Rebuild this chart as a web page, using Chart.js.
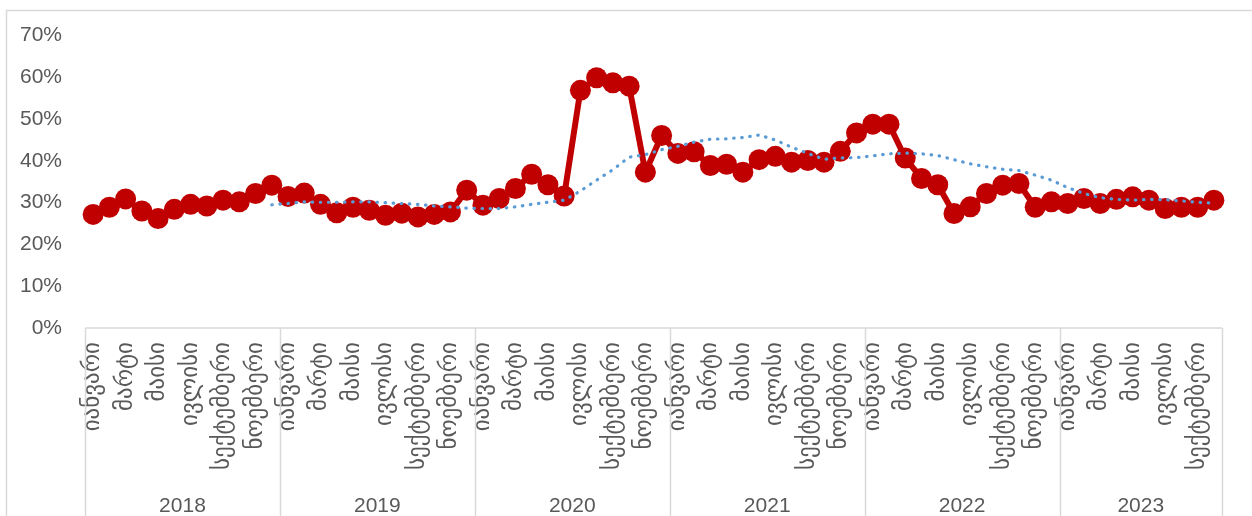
<!DOCTYPE html>
<html>
<head>
<meta charset="utf-8">
<script src="https://cdn.jsdelivr.net/npm/chart.js@4/dist/chart.umd.min.js"></script>
<style>
  html, body { margin: 0; padding: 0; background: #fff; }
  #wrap { width: 1252px; height: 516px; position: relative; }
</style>
</head>
<body>
<div id="wrap"><canvas id="chart"></canvas></div>
<script>
// month names (Georgian), years and how many months each year has
var monthNames = ['იანვარი', 'თებერვალი', 'მარტი', 'აპრილი', 'მაისი', 'ივნისი',
  'ივლისი', 'აგვისტო', 'სექტემბერი', 'ოქტომბერი', 'ნოემბერი', 'დეკემბერი'];
var years = ['2018', '2019', '2020', '2021', '2022', '2023'];
var monthsPerYear = [12, 12, 12, 12, 12, 10];

// share, %
var shareValues = [
  27.2, 28.9, 30.9, 28.0, 26.2, 28.4, 29.6, 29.2, 30.6, 30.2, 32.2, 34.2,
  31.5, 32.3, 29.6, 27.6, 28.9, 28.2, 27.0, 27.5, 26.6, 27.2, 27.8, 33.0,
  29.4, 31.0, 33.4, 36.8, 34.3, 31.6, 56.9, 59.9, 58.7, 57.9, 37.3, 46.1,
  41.8, 42.2, 38.9, 39.2, 37.3, 40.3, 41.1, 39.7, 40.1, 39.7, 42.3, 46.7,
  48.8, 48.8, 40.7, 35.8, 34.3, 27.4, 29.0, 32.2, 34.2, 34.6, 28.9, 30.2,
  29.8, 31.0, 29.8, 30.8, 31.4, 30.6, 28.6, 28.9, 28.9, 30.6
];

// dotted trend line (starts in Dec 2018)
var trendValues = [
  null, null, null, null, null, null, null, null, null, null, null, 29.5,
  29.8, 30.2, 30.1, 30.1, 30.2, 30.2, 30.0, 29.8, 29.6, 29.2, 29.0, 28.7,
  28.6, 28.6, 29.0, 29.6, 30.1, 30.6, 32.8, 35.4, 37.9, 40.9, 41.5, 42.7,
  43.5, 44.5, 45.2, 45.3, 45.6, 46.2, 45.0, 43.3, 41.8, 40.4, 40.7, 40.8,
  41.2, 41.7, 41.9, 41.7, 41.3, 40.3, 39.3, 38.6, 38.0, 37.7, 36.6, 35.4,
  33.6, 32.2, 31.2, 30.8, 30.6, 30.8, 30.7, 30.4, 30.1, 29.9
];

var yTicks = [0, 10, 20, 30, 40, 50, 60, 70];

var labels = [];
monthsPerYear.forEach(function (n) {
  for (var m = 0; m < n; m++) labels.push(monthNames[m]);
});

var GRID = '#d9d9d9';
var TEXT = '#595959';
var LATIN = "'Liberation Sans', Arial, sans-serif";
var GEO = "'DejaVu Sans', sans-serif";

var yearAxis = {
  id: 'yearAxis',
  beforeDraw: function (chart) {
    var ctx = chart.ctx;
    ctx.save();
    ctx.strokeStyle = GRID;
    ctx.lineWidth = 1.5;
    ctx.strokeRect(6.5, 10.5, 1400, 700);
    ctx.restore();
  },
  afterDraw: function (chart) {
    var ctx = chart.ctx;
    var xs = chart.scales.x;
    var area = chart.chartArea;
    var half = (xs.getPixelForValue(1) - xs.getPixelForValue(0)) / 2;
    var bottom = chart.height;

    ctx.save();
    ctx.strokeStyle = GRID;
    ctx.lineWidth = 1.5;
    ctx.beginPath();
    ctx.moveTo(area.left, area.bottom);
    ctx.lineTo(area.right, area.bottom);

    var idx = 0;
    ctx.fillStyle = TEXT;
    ctx.font = '21px ' + LATIN;
    ctx.textAlign = 'center';
    ctx.textBaseline = 'middle';
    years.forEach(function (yr, i) {
      var left = xs.getPixelForValue(idx) - half;
      var right = xs.getPixelForValue(idx + monthsPerYear[i] - 1) + half;
      ctx.moveTo(Math.round(left) + 0.5, area.bottom);
      ctx.lineTo(Math.round(left) + 0.5, bottom);
      if (i === years.length - 1) {
        ctx.moveTo(Math.round(right) + 0.5, area.bottom);
        ctx.lineTo(Math.round(right) + 0.5, bottom);
      }
      ctx.fillText(yr, (left + right) / 2, 506);
      idx += monthsPerYear[i];
    });
    ctx.stroke();
    ctx.restore();
  }
};

new Chart(document.getElementById('chart'), {
  type: 'line',
  data: {
    labels: labels,
    datasets: [{
      data: trendValues,
      borderColor: '#5b9bd5',
      borderWidth: 3.2,
      borderDash: [0.5, 7.6],
      borderCapStyle: 'round',
      pointRadius: 0,
      fill: false
    }, {
      data: shareValues,
      borderColor: '#c00000',
      backgroundColor: '#c00000',
      borderWidth: 6,
      pointRadius: 10.5,
      pointBorderWidth: 0,
      pointBackgroundColor: '#c00000',
      fill: false
    }]
  },
  options: {
    responsive: true,
    maintainAspectRatio: false,
    animation: false,
    layout: { padding: { top: 34, left: 0, right: 30, bottom: 0 } },
    plugins: {
      legend: { display: false },
      tooltip: { enabled: false }
    },
    scales: {
      x: {
        offset: true,
        grid: { display: false, drawTicks: false },
        border: { display: false },
        ticks: {
          autoSkip: false,
          minRotation: 90,
          maxRotation: 90,
          padding: 14,
          color: TEXT,
          font: { family: GEO, size: 23 },
          callback: function (v, i) { return i % 2 === 0 ? labels[i] : ''; }
        },
        afterFit: function (scale) {
          scale.height = 188;
          scale.paddingLeft = 0;
          scale.paddingRight = 0;
        }
      },
      y: {
        min: 0,
        max: 70,
        grid: { display: false, drawTicks: false },
        border: { display: false },
        afterBuildTicks: function (scale) {
          scale.ticks = yTicks.map(function (v) { return { value: v }; });
        },
        ticks: {
          padding: 23,
          color: TEXT,
          font: { family: LATIN, size: 21 },
          callback: function (v) { return v + '%'; }
        },
        afterFit: function (scale) { scale.width = 85; }
      }
    }
  },
  plugins: [yearAxis]
});
</script>
</body>
</html>
